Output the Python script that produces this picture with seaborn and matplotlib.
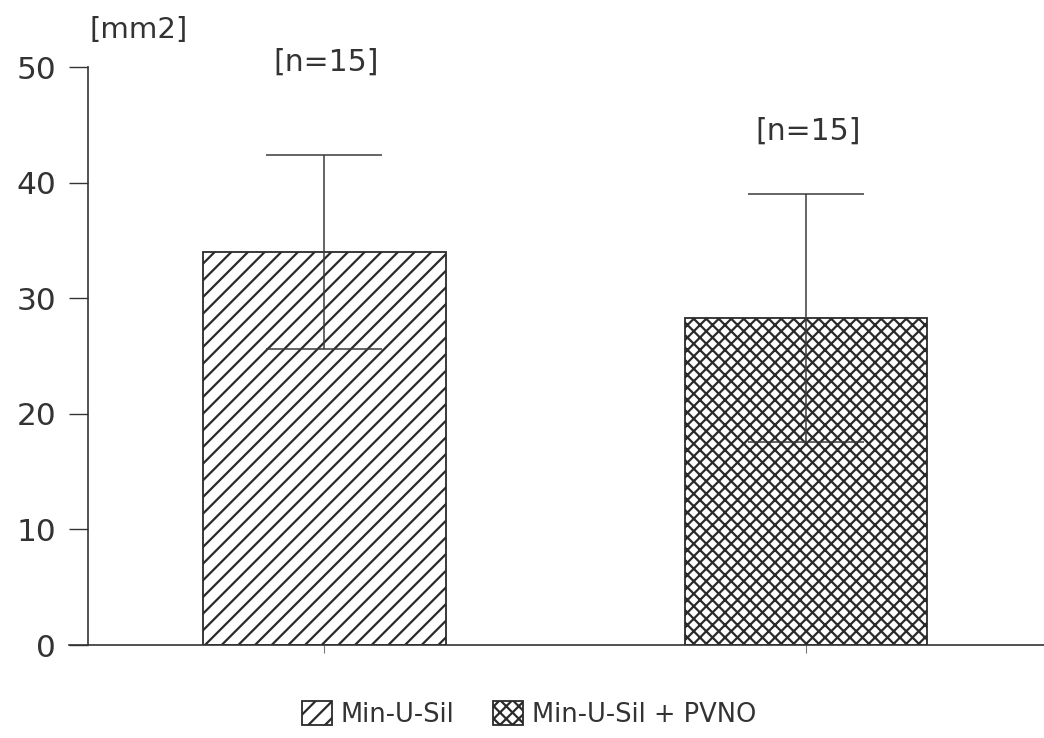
import matplotlib
matplotlib.use("Agg")
import matplotlib.pyplot as plt
import matplotlib.hatch as mhatch
import numpy as np
import pandas as pd
import seaborn as sns

# ---- data -------------------------------------------------------------
groups = ["Min-U-Sil", "Min-U-Sil + PVNO"]
mean_area = [34.0, 28.3]      # mm2
sd_area = [8.4, 10.7]
n_animals = [15, 15]
group_hatches = ["//", "XX"]

y_ticks = [0, 10, 20, 30, 40, 50]
y_unit = "[mm2]"

# ---- a finer cross-hatch for the "X" pattern --------------------------
class FineNorthEast(mhatch.NorthEastHatch):
    def __init__(self, hatch, density):
        super().__init__(hatch, density)
        self.num_lines = int((hatch.count('/') + hatch.count('x')
                              + 1.4 * hatch.count('X')) * density)
        self.num_vertices = (self.num_lines + 1) * 2 if self.num_lines else 0


class FineSouthEast(mhatch.SouthEastHatch):
    def __init__(self, hatch, density):
        super().__init__(hatch, density)
        self.num_lines = int((hatch.count('\\') + hatch.count('x')
                              + 1.4 * hatch.count('X')) * density)
        self.num_vertices = (self.num_lines + 1) * 2 if self.num_lines else 0


mhatch._hatch_types = [
    FineNorthEast if t is mhatch.NorthEastHatch else
    FineSouthEast if t is mhatch.SouthEastHatch else t
    for t in mhatch._hatch_types
]

# ---- style ------------------------------------------------------------
sns.set_style("ticks")
ink = "#333333"
plt.rcParams["font.family"] = ["DejaVu Sans"]
plt.rcParams["hatch.linewidth"] = 1.6
plt.rcParams["hatch.color"] = "#2a2a2a"
plt.rcParams["text.color"] = ink

df = pd.DataFrame({"group": groups, "area": mean_area, "sd": sd_area})

fig = plt.figure(figsize=(10.44, 7.38), dpi=100)
ax = fig.add_axes([0.0843, 0.126, 0.9157, 0.783])

sns.barplot(data=df, x="group", y="area", hue="group",
            palette=["white", "white"], edgecolor="#2a2a2a", linewidth=1.3,
            width=0.504, errorbar=None, legend=False, ax=ax)

for bar, h in zip(ax.patches, group_hatches):
    bar.set_hatch(h)

xpos = np.arange(len(groups))
ax.errorbar(xpos, df["area"], yerr=df["sd"], fmt="none", ecolor="#3a3a3a",
            elinewidth=1.1, capsize=42, capthick=1.1, zorder=5)

# sample-size labels above each bar
n_label_y = [50.4, 44.5]
for x, n, y in zip(xpos, n_animals, n_label_y):
    ax.text(x + 0.005, y, f"[n={n}]", ha="center", va="center",
            fontsize=21.5, color=ink, clip_on=False)

ax.text(0.002, 1.064, y_unit, transform=ax.transAxes, ha="left",
        va="center", fontsize=21, color=ink, clip_on=False)

ax.set_ylim(0, 50)
ax.set_xlim(-0.49, 1.494)
ax.set_yticks(y_ticks)
ax.set_xticks(xpos)
ax.set_xticklabels([])
ax.set_xlabel("")
ax.set_ylabel("")

ax.tick_params(axis="y", length=14, width=1.0, color=ink, pad=9,
               labelsize=22.5, labelcolor=ink)
ax.tick_params(axis="x", length=6, width=0.8, color="#777777")

sns.despine(ax=ax, top=True, right=True)
for side in ("left", "bottom"):
    ax.spines[side].set_color(ink)
    ax.spines[side].set_linewidth(1.2)
ax.spines["bottom"].set_bounds(-0.53, 1.494)
ax.spines["bottom"].set_clip_on(False)

leg = fig.legend(handles=list(ax.patches), labels=groups, loc="center",
                 bbox_to_anchor=(0.507, 0.032), ncol=2, frameon=False,
                 fontsize=18.5, handlelength=1.15, handleheight=1.05,
                 handletextpad=0.35, columnspacing=1.5, borderaxespad=0)
for t in leg.get_texts():
    t.set_color(ink)

fig.savefig("out.png", dpi=100)
